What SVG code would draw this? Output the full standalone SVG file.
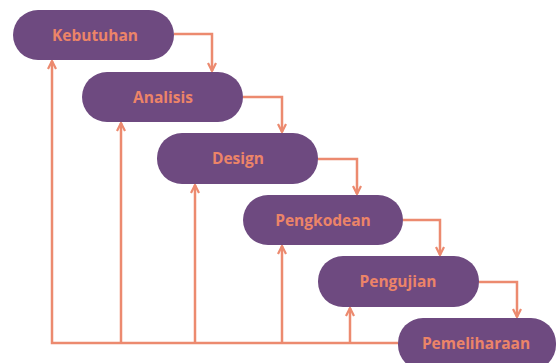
<svg xmlns="http://www.w3.org/2000/svg" width="557" height="363" viewBox="0 0 557 363">
<defs>
<style>
.node rect{fill:#6e4a80}
.node text{fill:#ec8468;font-family:"Open Sans","DejaVu Sans",sans-serif;font-weight:bold;font-size:15.5px;text-anchor:middle;dominant-baseline:central}
.conn path{fill:none;stroke:#ec8a6f;stroke-width:2.5}
</style>
<marker id="ah" viewBox="0 0 10 10" refX="9" refY="5" markerWidth="4" markerHeight="4" orient="auto" markerUnits="strokeWidth">
<path d="M1,1 L9,5 L1,9" fill="none" stroke="#ec8a6f" stroke-width="2.2"/>
</marker>
</defs>
<rect width="557" height="363" fill="#ffffff"/>
<g class="conn">
<path d="M174,34 H212 V71" marker-end="url(#ah)"/>
<path d="M243,97 H282 V132" marker-end="url(#ah)"/>
<path d="M318,159 H357 V194" marker-end="url(#ah)"/>
<path d="M403,220 H440 V255" marker-end="url(#ah)"/>
<path d="M479,282 H517 V317" marker-end="url(#ah)"/>
<path d="M398,343 H52 V61" marker-end="url(#ah)"/>
<path d="M121,343 V123" marker-end="url(#ah)"/>
<path d="M195,343 V185" marker-end="url(#ah)"/>
<path d="M282,343 V246" marker-end="url(#ah)"/>
<path d="M350,343 V308" marker-end="url(#ah)"/>
</g>
<g id="kebutuhan" class="node"><rect x="13" y="10" width="161" height="50" rx="25"/><text x="95" y="35">Kebutuhan</text></g>
<g id="analisis" class="node"><rect x="82" y="72" width="161" height="50" rx="25"/><text x="163" y="97">Analisis</text></g>
<g id="design" class="node"><rect x="157" y="133" width="161" height="51" rx="25"/><text x="238" y="158">Design</text></g>
<g id="pengkodean" class="node"><rect x="243" y="195" width="160" height="50" rx="25"/><text x="323" y="220">Pengkodean</text></g>
<g id="pengujian" class="node"><rect x="318" y="256" width="161" height="51" rx="25"/><text x="398" y="281">Pengujian</text></g>
<g id="pemeliharaan" class="node"><rect x="398" y="318" width="158" height="52" rx="25"/><text x="476" y="343">Pemeliharaan</text></g>
</svg>
